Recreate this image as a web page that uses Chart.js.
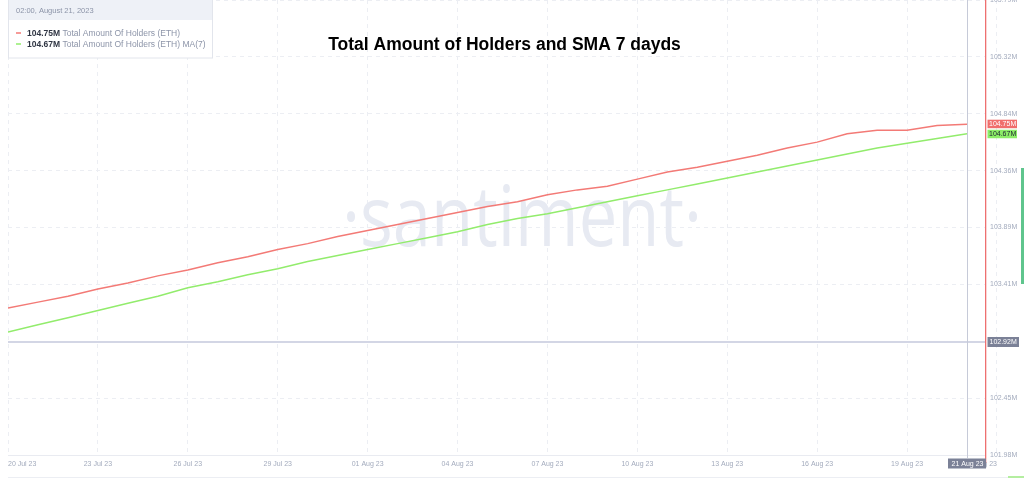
<!DOCTYPE html>
<html>
<head>
<meta charset="utf-8">
<script src="https://cdn.jsdelivr.net/npm/chart.js@4"></script>
<style>
html, body { margin: 0; padding: 0; background: #fff; }
</style>
</head>
<body>
<canvas id="holdersChart" width="1024" height="479"></canvas>
<script>
// daily points, 20 Jul 23 .. 21 Aug 23
const days = ["20 Jul 23", "21 Jul 23", "22 Jul 23", "23 Jul 23", "24 Jul 23", "25 Jul 23",
              "26 Jul 23", "27 Jul 23", "28 Jul 23", "29 Jul 23", "30 Jul 23", "31 Jul 23",
              "01 Aug 23", "02 Aug 23", "03 Aug 23", "04 Aug 23", "05 Aug 23", "06 Aug 23",
              "07 Aug 23", "08 Aug 23", "09 Aug 23", "10 Aug 23", "11 Aug 23", "12 Aug 23",
              "13 Aug 23", "14 Aug 23", "15 Aug 23", "16 Aug 23", "17 Aug 23", "18 Aug 23",
              "19 Aug 23", "20 Aug 23", "21 Aug 23"];

// millions of holders
const holders = [103.21, 103.26, 103.31, 103.37, 103.42, 103.48, 103.53, 103.59, 103.64, 103.70, 103.75,
                 103.81, 103.86, 103.91, 103.96, 104.01, 104.06, 104.10, 104.16, 104.20, 104.23, 104.29,
                 104.35, 104.39, 104.44, 104.49, 104.55, 104.60, 104.67, 104.70, 104.70, 104.74, 104.75];

const holdersMa = [103.01, 103.07, 103.13, 103.19, 103.25, 103.31, 103.38, 103.43, 103.49, 103.54, 103.60,
                   103.65, 103.70, 103.75, 103.80, 103.85, 103.91, 103.96, 104.00, 104.05, 104.10, 104.15,
                   104.20, 104.25, 104.30, 104.35, 104.40, 104.45, 104.50, 104.55, 104.59, 104.63, 104.67];

// axis labels as printed on the picture
const xTickLabels = ["20 Jul 23", "23 Jul 23", "26 Jul 23", "29 Jul 23", "01 Aug 23", "04 Aug 23",
                     "07 Aug 23", "10 Aug 23", "13 Aug 23", "16 Aug 23", "19 Aug 23", "22 Aug 23"];
const yTickLabels = ["101.98M", "102.45M", "102.92M", "103.41M", "103.89M", "104.36M", "104.84M", "105.32M", "105.79M"];

const yMin = 101.98, yMax = 105.79;
const xMax = 32.6; //a little room after the last day

const crossIndex = 32;          //hovered day
const crossValue = 102.925;     //hovered price level
const crossLabel = "102.92M";
const hoverTime = "02:00, August 21, 2023";

const chartTitle = "Total Amount of Holders and SMA 7 dayds";
const watermark = "\u00B7santiment\u00B7";

const redColour = "rgb(243,122,118)";
const greenColour = "rgb(146,236,108)";
const tickColour = "#a3abbd";
const gridColour = "#eceef3";
const fontName = '"Liberation Sans", Arial, sans-serif';

function toPoints(vals){
	return vals.map(function(v, i){ return {x: i, y: v}; });
}//end toPoints

function box(ctx, x, y, w, h, fill){
	ctx.fillStyle = fill;
	ctx.fillRect(x, y, w, h);
}//end box

const overlay = {
	id: "overlay",
	beforeDatasetsDraw(chart){ //the faded brand mark sits under the lines
		const ctx = chart.ctx;
		ctx.save();
		ctx.font = '400 84px "Open Sans"';
		ctx.fillStyle = "#e7eaf2";
		const w = ctx.measureText(watermark).width;
		ctx.translate(522, 246);
		ctx.scale(360 / w, 1);
		ctx.textAlign = "center";
		ctx.textBaseline = "alphabetic";
		ctx.fillText(watermark, 0, 0);
		ctx.restore();
	},
	afterDraw(chart){
		const ctx = chart.ctx;
		const area = chart.chartArea;
		const xs = chart.scales.x, ys = chart.scales.y;
		const cx = Math.round(xs.getPixelForValue(crossIndex)) + 0.5;
		const cy = Math.round(ys.getPixelForValue(crossValue));
		const rx = Math.round(area.right);

		ctx.save();
		ctx.setLineDash([]);
		//crosshair
		ctx.strokeStyle = "#d3d6e5";
		ctx.lineWidth = 2;
		ctx.beginPath();
		ctx.moveTo(area.left, cy);
		ctx.lineTo(rx, cy);
		ctx.stroke();
		ctx.strokeStyle = "#c6cad8";
		ctx.lineWidth = 1;
		ctx.beginPath();
		ctx.moveTo(cx, 0);
		ctx.lineTo(cx, area.bottom + 3);
		ctx.stroke();

		//"now" marker on the right edge
		box(ctx, rx, 0, 1.3, area.bottom + 8, "rgb(238,112,112)");

		ctx.font = "7px " + fontName;
		ctx.textBaseline = "middle";

		//crosshair labels
		box(ctx, rx + 2.5, cy - 5, 31.5, 10, "#7b8197");
		ctx.fillStyle = "#fff";
		ctx.textAlign = "left";
		ctx.fillText(crossLabel, rx + 4.5, cy + 0.5);

		box(ctx, cx - 19.5, area.bottom + 3.5, 38, 10, "#7b8197");
		ctx.fillStyle = "#fff";
		ctx.textAlign = "center";
		ctx.fillText(days[crossIndex], cx, area.bottom + 9);

		//last value tags on the axis
		const ry = ys.getPixelForValue(holders[holders.length - 1]);
		let gy = ys.getPixelForValue(holdersMa[holdersMa.length - 1]);
		if(gy - 4.5 < ry + 4) gy = ry + 8.5;
		box(ctx, rx + 2.5, ry - 4.5, 29.5, 8.5, "rgb(240,110,108)");
		box(ctx, rx + 2.5, gy - 4, 29.5, 8.5, "rgb(140,237,104)");
		ctx.textAlign = "left";
		ctx.fillStyle = "#fff";
		ctx.fillText(holders[holders.length - 1].toFixed(2) + "M", rx + 4, ry);
		ctx.fillStyle = "#1d2330";
		ctx.fillText(holdersMa[holdersMa.length - 1].toFixed(2) + "M", rx + 4, gy + 0.5);

		//hover legend in the top left corner
		ctx.fillStyle = "#fff";
		ctx.fillRect(8, 0, 205, 58);
		box(ctx, 8, 0, 205, 20, "#eef1f7");
		ctx.strokeStyle = "#e2e5ec";
		ctx.lineWidth = 1;
		ctx.strokeRect(8.5, -0.5, 204, 58.5);
		ctx.fillStyle = "#8c94a8";
		ctx.font = "7.5px " + fontName;
		ctx.fillText(hoverTime, 16, 10.5);

		const rows = [
			{c: redColour, v: holders[holders.length - 1], t: " Total Amount Of Holders (ETH)", y: 33},
			{c: greenColour, v: holdersMa[holdersMa.length - 1], t: " Total Amount Of Holders (ETH) MA(7)", y: 44}
		];
		rows.forEach(function(r){
			ctx.strokeStyle = r.c;
			ctx.lineWidth = 1.5;
			ctx.beginPath();
			ctx.moveTo(16, r.y);
			ctx.lineTo(21, r.y);
			ctx.stroke();
			ctx.font = "bold 8.5px " + fontName;
			ctx.fillStyle = "#2f3543";
			const val = r.v.toFixed(2) + "M";
			ctx.fillText(val, 27, r.y + 0.5);
			const vw = ctx.measureText(val).width;
			ctx.font = "8.5px " + fontName;
			ctx.fillStyle = "#8c94a8";
			ctx.fillText(r.t, 27 + vw, r.y + 0.5);
		});

		//title
		ctx.font = "bold 17.5px " + fontName;
		ctx.fillStyle = "#000";
		ctx.textAlign = "center";
		ctx.fillText(chartTitle, 504.5, 45);

		//scroll bar bits at the right and bottom
		box(ctx, 1021, 168, 3, 116, "#5fc58d");
		box(ctx, 8, 477, 1002, 1, "#eceef3");
		box(ctx, 1008, 476, 16, 2, "#b4eea0");
		ctx.restore();
	}
};

new Chart("holdersChart", {
	type: "line",
	data: {
		datasets: [{
			label: "Total Amount Of Holders (ETH)",
			data: toPoints(holders),
			borderColor: redColour,
			borderWidth: 1.5,
			pointRadius: 0,
			tension: 0
		}, {
			label: "Total Amount Of Holders (ETH) MA(7)",
			data: toPoints(holdersMa),
			borderColor: greenColour,
			borderWidth: 1.5,
			pointRadius: 0,
			tension: 0
		}]
	},
	options: {
		responsive: false,
		animation: false,
		events: [],
		layout: {padding: {left: 8, top: 0, right: 0, bottom: 0}},
		plugins: {
			legend: {display: false},
			tooltip: {enabled: false},
			title: {display: false}
		},
		scales: {
			x: {
				type: "linear",
				min: 0,
				max: xMax,
				grid: {color: gridColour, drawTicks: false},
				border: {display: true, color: "#e9ebf1", dash: [4, 4]},
				ticks: {
					color: tickColour,
					font: {family: fontName, size: 7},
					padding: 5,
					align: "inner",
					maxRotation: 0,
					autoSkip: false,
					callback: function(v, i){ return xTickLabels[i]; }
				},
				afterBuildTicks: function(scale){
					scale.ticks = xTickLabels.map(function(_, i){ return {value: i * 3}; });
				},
				afterFit: function(scale){
					scale.height = 24;
					scale.paddingLeft = 0;
					scale.paddingRight = 0;
				}
			},
			y: {
				position: "right",
				min: yMin,
				max: yMax,
				grid: {color: gridColour, drawTicks: false},
				border: {display: false, dash: [4, 4]},
				ticks: {
					color: tickColour,
					font: {family: fontName, size: 7},
					padding: 5,
					callback: function(v, i){ return yTickLabels[i]; }
				},
				afterBuildTicks: function(scale){
					const step = (yMax - yMin) / (yTickLabels.length - 1);
					scale.ticks = yTickLabels.map(function(_, i){ return {value: yMin + i * step}; });
				},
				afterFit: function(scale){
					scale.width = 39;
					scale.paddingTop = 0;
					scale.paddingBottom = 0;
				}
			}
		}
	},
	plugins: [overlay]
});
</script>
</body>
</html>
